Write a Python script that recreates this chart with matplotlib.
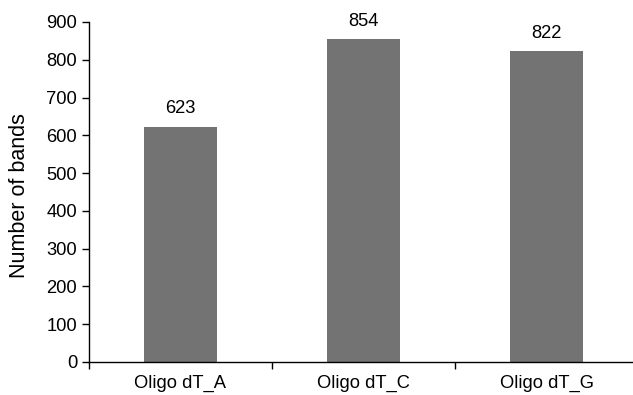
import matplotlib
matplotlib.use("Agg")
import matplotlib.pyplot as plt

categories = ["Oligo dT_A", "Oligo dT_C", "Oligo dT_G"]
values = [623, 854, 822]
yticks = [0, 100, 200, 300, 400, 500, 600, 700, 800, 900]

plt.rcParams['font.family'] = ['Liberation Sans', 'DejaVu Sans']
W, H = 633, 395
fig = plt.figure(figsize=(W/100, H/100), dpi=100)
left, right, bottom, top = 89, 638, 395-362, 395-22
ax = fig.add_axes([left/W, bottom/H, (right-left)/W, (top-bottom)/H])

x = list(range(len(categories)))
bars = ax.bar(x, values, width=0.4, color='#737373')
for xi, v in zip(x, values):
    ax.annotate(str(v), (xi, v), xytext=(0, 7), textcoords='offset points',
                ha='center', va='bottom', fontsize=13.2)

ax.set_xlim(-0.5, len(categories) - 0.5)
ax.set_ylim(0, 900)
ax.set_yticks(yticks)
ax.set_xticks([i - 0.5 for i in range(len(categories) + 1)])
ax.set_xticklabels([])
ax.set_xticks(x, minor=True)
ax.set_xticklabels(categories, minor=True)
ax.tick_params(axis='x', which='minor', length=0, labelsize=13.2, pad=9)
ax.tick_params(axis='x', which='major', length=5, width=1, direction='out')
ax.tick_params(axis='y', length=5, width=1, direction='out', labelsize=13.2, pad=3.5)
ax.set_ylabel("Number of bands", fontsize=15.5)
ax.yaxis.set_label_coords(30/W, (395-196)/H, transform=fig.transFigure)
for s in ['top', 'right']:
    ax.spines[s].set_visible(False)
for s in ['left', 'bottom']:
    ax.spines[s].set_linewidth(1)
fig.savefig("out.png", dpi=100)
